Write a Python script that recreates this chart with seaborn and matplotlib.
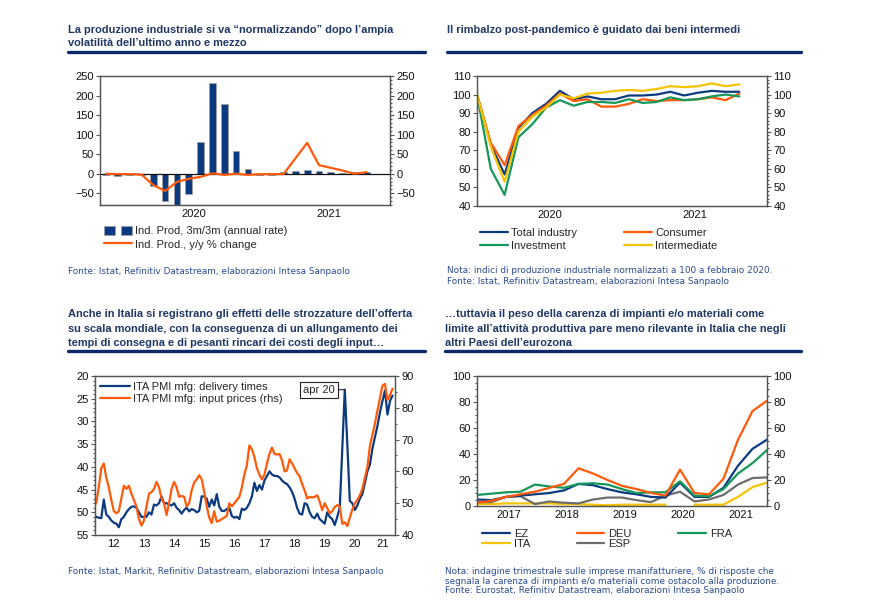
import numpy as np
import pandas as pd
import seaborn as sns
import matplotlib.pyplot as plt
from matplotlib.ticker import MultipleLocator, FixedLocator
from matplotlib.patches import Patch
from matplotlib.lines import Line2D
from matplotlib.legend_handler import HandlerTuple

sns.set_theme(style="white")
plt.rcParams["font.family"] = ["Liberation Sans", "DejaVu Sans"]

# ---- panel 1: industrial production (monthly, Nov 2019 - Sep 2021)
p1_months = pd.date_range("2019-11-01", periods=23, freq="MS").strftime("%Y-%m").tolist()
p1_3m3m = [-3, -5, -3, -3, -32, -69, -80, -52, 82, 233, 179, 58, 13, -2, -3, 5, 7, 9, 7, 5, 3, 5, 4]
p1_yoy = [0, -1, -1, -2, -29, -44, -21, -13, -8, 1, -3, 0, -3, -1, -1, -1, 39, 79, 22, 15, 8, 0, 4]
p1_years = ["2020", "2021"]

# ---- panel 2: production by sector, Feb 2020 = 100 (Feb 2020 - Sep 2021)
p2_months = pd.date_range("2020-02-01", periods=20, freq="MS").strftime("%Y-%m").tolist()
p2_total = [100, 73, 57, 82, 90, 95, 102, 97.5, 99, 97.5, 97.5, 99.5, 99.5, 100, 101.5, 99.5, 101, 102, 101.5, 101.5]
p2_consumer = [100, 74, 62, 83, 89, 94, 100.5, 96.5, 97.5, 93.5, 93.5, 95, 97.5, 96.5, 97, 97, 97.5, 98.5, 97, 100.5]
p2_investment = [100, 60, 46, 77, 84, 93, 97, 94, 96, 96, 95.5, 97.5, 95.5, 96, 98.5, 97, 97.5, 99, 100, 99]
p2_intermediate = [100, 72, 53, 80, 88, 93, 100, 98, 100.5, 101, 102, 102.5, 102, 103, 104.5, 104, 104.5, 106, 104.5, 105.5]
p2_years = ["2020", "2021"]

# ---- panel 3: Italy PMI manufacturing (monthly)
p3_months = pd.date_range("2011-11-01", periods=120, freq="MS").strftime("%Y-%m").tolist()
p3_delivery = [51, 51,
               51.2, 51.3, 47.2, 50.5, 51, 51.8, 52.3, 52.5, 53.3, 51.5, 51, 50,
               49.3, 48.8, 48.7, 49, 50, 51, 51, 51, 50, 50.5, 48.3, 48.5,
               48, 46.5, 48, 48, 48.3, 48.5, 48, 49, 49.5, 50.3, 49.5, 49,
               49.8, 49.3, 49.5, 50, 49.7, 46.5, 46.5, 47, 48.8, 47.2, 48.5, 46,
               48.8, 49.7, 49.7, 49.3, 49, 50.8, 51.2, 51, 51.5, 49.2, 49.5, 49,
               48, 46.5, 43.5, 45.3, 44, 45, 43, 42, 41, 41.7, 42, 42,
               42.3, 43, 43.5, 43.8, 44.5, 45.5, 47, 49, 50.3, 50.5, 48, 48.3,
               50, 51, 51.3, 50.3, 51.5, 52, 52.5, 50, 51, 51.5, 52.8, 51,
               49, 36, 23, 35, 47.5, 48, 49.5, 48.5, 47, 46, 43.5, 41,
               39.5, 36, 33.5, 31, 28, 25.5, 23.2, 28.5, 25.5, 24.3]
p3_input = [49.5, 50,
            55, 61, 62.5, 58, 55, 51, 47.5, 46.8, 47.5, 51.5, 55.5, 54.5,
            55.5, 53, 51, 49, 45, 43, 44.5, 49, 53, 53.5, 54.5, 56.7,
            55, 51.5, 50, 46.3, 50, 54.5, 56.7, 55, 52, 52.3, 52, 49,
            50, 54, 56.5, 57.5, 58.8, 57.5, 53.5, 49, 45.5, 43.7, 47.5, 44.2,
            44.5, 45, 45.5, 46, 50, 49, 50, 51, 52, 55, 59, 62,
            68.2, 67, 64.5, 61, 59, 57.5, 59, 62.5, 65.5, 67.5, 65.5, 65.3,
            65.5, 63.5, 60, 60.3, 63.8, 62.5, 61, 59.5, 58.5, 56, 54, 51.5,
            52, 51.8, 52, 52.5, 50.5, 47.8, 50, 48.5, 46.8, 47.5, 48.8, 49.4,
            49, 43.5, 44, 42.8, 45.5, 48, 50, 51, 52.5, 54.5, 58, 61.4,
            68, 71.5, 75, 79.2, 83, 87, 87.5, 82.5, 84, 86]
p3_years = ["12", "13", "14", "15", "16", "17", "18", "19", "20", "21"]

# ---- panel 4: shortage of equipment/materials, % of answers (quarterly)
p4_quarters = [f"{y}Q{q}" for y in range(2016, 2022) for q in range(1, 5)][3:24]
p4_ez = [5, 4.5, 7, 8, 9, 10, 12, 17, 16, 13, 10.5, 9, 7, 6.5, 18, 7, 7, 14, 31, 44, 51]
p4_deu = [2.5, 4, 7, 9, 11, 14, 17, 29, 25, 20, 15.5, 13, 10, 8, 28, 10, 9, 21, 51, 73, 81]
p4_fra = [8.5, 9.5, 10.5, 11, 16.5, 15, 14, 17, 17.5, 16.5, 13, 10, 10.5, 10.5, 19, 8, 7.5, 13, 25, 33, 43]
p4_ita = [1.5, 1.5, 2, 2, 2, 2, 1.5, 1.5, 1, 0.5, 1, 1, 1, 1, np.nan, 1, 1, 1, 7, 14.5, 18]
p4_esp = [3, 3, 7, 7.5, 1.5, 3.5, 2.5, 2, 5, 6.5, 6.5, 4.5, 3, 8, 11, 3.5, 5, 8.5, 16.5, 21.5, 22]
p4_years = ["2017", "2018", "2019", "2020", "2021"]

NAVY = "#0b3a80"
ORANGE = "#ff5a0a"
GREEN = "#16975a"
YELLOW = "#f5c400"
GREY = "#6e6e6e"
TITLE_C = "#1f3864"
NOTE_C = "#2b4c94"
SPINE_C = "#555555"

W, H = 872, 615
fig = plt.figure(figsize=(W / 100, H / 100), dpi=100)
fig.patch.set_facecolor("white")


def ax_at(l, t, r, b):
    return fig.add_axes([l / W, 1 - b / H, (r - l) / W, (b - t) / H])


def ftext(x, y, s, **kw):
    fig.text(x / W, 1 - y / H, s, va="center", ha="left", **kw)


def fpos(x, y):
    return (x / W, 1 - y / H)


def style(ax):
    for sp in ax.spines.values():
        sp.set_color(SPINE_C)
        sp.set_linewidth(0.9)
    ax.tick_params(which="both", direction="out", color=SPINE_C, width=0.8,
                   labelsize=8, pad=1.5, colors="#111111")
    ax.tick_params(which="major", length=3)
    ax.tick_params(which="minor", length=1.6)
    ax.set_xlabel("")
    ax.set_ylabel("")


def year_axis(ax, bounds, label_pos, labels):
    ax.xaxis.set_major_locator(FixedLocator(bounds))
    ax.set_xticklabels([""] * len(bounds))
    ax.xaxis.set_minor_locator(FixedLocator(label_pos))
    ax.set_xticklabels(labels, minor=True)
    ax.tick_params(axis="x", which="minor", length=0, labelsize=8, pad=3)


def titles(x, y0, lines, x1, yline):
    step = 14.5 if len(lines) > 2 else 13.5
    for k, s in enumerate(lines):
        ftext(x, y0 + k * step, s, fontsize=7.9, fontweight="bold", color=TITLE_C)
    fig.add_artist(Line2D([x / W, x1 / W], [1 - yline / H] * 2, color="#0c2a6b",
                          lw=2.4, transform=fig.transFigure))


def notes(x, y0, lines, step=9.0):
    for k, s in enumerate(lines):
        ftext(x, y0 + k * step, s, fontsize=6.4, color=NOTE_C, family="DejaVu Sans")


# ================= panel 1
ax1 = ax_at(100, 76, 390, 205)
df1 = pd.DataFrame({"month": p1_months, "i": np.arange(len(p1_months)),
                    "m3m3": p1_3m3m, "yoy": p1_yoy})
ax1.axhline(0, color="#111111", lw=0.9, zorder=2)
sns.barplot(data=df1, x="i", y="m3m3", native_scale=True, width=0.57, color=NAVY,
            saturation=1, edgecolor="#a0a0a0", linewidth=0.6, ax=ax1, zorder=1.5)
sns.lineplot(data=df1, x="i", y="yoy", color=ORANGE, lw=1.6, ax=ax1, zorder=3)
ax1.set_xlim(-0.5, 24)
ax1.set_ylim(-80, 250)
ax1.set_yticks(range(-50, 251, 50))
style(ax1)
year_axis(ax1, [1.5 + 3 * k for k in range(8)], [7.4, 18.8], p1_years)
ax1r = ax1.twinx()
ax1r.set_ylim(-80, 250)
ax1r.set_yticks(range(-50, 251, 50))
ax1r.yaxis.set_minor_locator(MultipleLocator(10))
style(ax1r)

h1 = [(Patch(facecolor=NAVY, edgecolor="#a0a0a0", lw=0.5),
       Patch(facecolor=NAVY, edgecolor="#a0a0a0", lw=0.5)),
      Line2D([], [], color=ORANGE, lw=1.6)]
fig.legend(h1, ["Ind. Prod, 3m/3m (annual rate)", "Ind. Prod., y/y % change"],
           loc="upper left", bbox_to_anchor=fpos(104, 226), frameon=False, fontsize=8,
           handlelength=2.5, handleheight=0.9, handletextpad=0.3, labelspacing=0.25,
           borderpad=0, borderaxespad=0,
           handler_map={tuple: HandlerTuple(ndivide=None, pad=0.6)})

titles(68, 30, ["La produzione industriale si va “normalizzando” dopo l’ampia",
                "volatilità dell’ultimo anno e mezzo"], 425, 51.5)
notes(68, 271, ["Fonte: Istat, Refinitiv Datastream, elaborazioni Intesa Sanpaolo"])

# ================= panel 2
ax2 = ax_at(477, 76, 767, 206)
df2 = pd.DataFrame({"month": p2_months, "i": np.arange(len(p2_months)),
                    "Total industry": p2_total, "Consumer": p2_consumer,
                    "Investment": p2_investment, "Intermediate": p2_intermediate})
long2 = df2.melt(id_vars=["month", "i"], var_name="series", value_name="value")
pal2 = {"Total industry": NAVY, "Consumer": ORANGE, "Investment": GREEN, "Intermediate": YELLOW}
sns.lineplot(data=long2, x="i", y="value", hue="series", palette=pal2, lw=1.6,
             legend=False, ax=ax2)
ax2.set_xlim(0, 21)
ax2.set_ylim(40, 110)
ax2.set_yticks(range(40, 111, 10))
style(ax2)
year_axis(ax2, [1.5 + 3 * k for k in range(7)], [5.3, 15.8], p2_years)
ax2r = ax2.twinx()
ax2r.set_ylim(40, 110)
ax2r.set_yticks(range(40, 111, 10))
ax2r.yaxis.set_minor_locator(MultipleLocator(2))
style(ax2r)
order2 = ["Total industry", "Investment", "Consumer", "Intermediate"]
fig.legend([Line2D([], [], color=pal2[s], lw=1.6) for s in order2], order2, ncol=2,
           loc="upper left", bbox_to_anchor=fpos(480, 228), frameon=False, fontsize=8,
           handlelength=2.5, handletextpad=0.3, labelspacing=0.25, columnspacing=4.2,
           borderpad=0, borderaxespad=0)
titles(447, 30, ["Il rimbalzo post-pandemico è guidato dai beni intermedi"], 801, 51.5)
notes(447, 270.5, ["Nota: indici di produzione industriale normalizzati a 100 a febbraio 2020.",
                   "Fonte: Istat, Refinitiv Datastream, elaborazioni Intesa Sanpaolo"], step=10.5)

# ================= panel 3
ax3 = ax_at(95, 376, 395, 535)
df3 = pd.DataFrame({"month": p3_months, "m": np.arange(len(p3_months)) - 2,
                    "delivery": p3_delivery, "input": p3_input})
sns.lineplot(data=df3, x="m", y="delivery", color=NAVY, lw=1.6, ax=ax3)
ax3.set_xlim(-1.5, 118)
ax3.set_ylim(55, 20)
ax3.set_yticks(range(20, 56, 5))
ax3.yaxis.set_minor_locator(MultipleLocator(1))
style(ax3)
year_axis(ax3, [12 * k for k in range(10)], [6 + 12 * k for k in range(9)] + [113], p3_years)
ax3r = ax3.twinx()
sns.lineplot(data=df3, x="m", y="input", color=ORANGE, lw=1.6, ax=ax3r)
ax3r.set_ylim(40, 90)
ax3r.set_yticks(range(40, 91, 10))
ax3r.yaxis.set_minor_locator(MultipleLocator(5))
style(ax3r)
ax3r.legend([Line2D([], [], color=NAVY, lw=1.6), Line2D([], [], color=ORANGE, lw=1.6)],
            ["ITA PMI mfg: delivery times", "ITA PMI mfg: input prices (rhs)"],
            loc="upper left", bbox_to_anchor=fpos(100, 382), bbox_transform=fig.transFigure,
            frameon=False, fontsize=8, handlelength=2.7, handletextpad=0.3,
            labelspacing=0.2, borderpad=0, borderaxespad=0)
ax3.annotate("apr 20", xy=(98, 23), xytext=(87.7, 23.1), fontsize=8, ha="center",
             va="center", zorder=5,
             bbox=dict(boxstyle="square,pad=0.25", fc="white", ec="#222222", lw=0.8),
             arrowprops=dict(arrowstyle="-", color="#222222", lw=0.8, shrinkA=0, shrinkB=0))
titles(68, 314, ["Anche in Italia si registrano gli effetti delle strozzature dell’offerta",
                 "su scala mondiale, con la conseguenza di un allungamento dei",
                 "tempi di consegna e di pesanti rincari dei costi degli input…"], 425, 351)
notes(68, 572, ["Fonte: Istat, Markit, Refinitiv Datastream, elaborazioni Intesa Sanpaolo"])

# ================= panel 4
ax4 = ax_at(477, 376, 767, 506)
df4 = pd.DataFrame({"quarter": p4_quarters, "EZ": p4_ez, "DEU": p4_deu, "FRA": p4_fra,
                    "ITA": p4_ita, "ESP": p4_esp})
df4["x"] = [int(q[:4]) + (int(q[-1]) - 1) / 4 for q in df4["quarter"]]
long4 = df4.melt(id_vars=["quarter", "x"], var_name="country", value_name="value")
# ITA has a missing quarter: split it in two pieces so the gap stays visible
long4["seg"] = 0
ita = long4["country"] == "ITA"
long4.loc[ita, "seg"] = long4.loc[ita, "value"].isna().cumsum()
long4 = long4.dropna()
pal4 = {"EZ": NAVY, "DEU": ORANGE, "FRA": GREEN, "ITA": YELLOW, "ESP": GREY}
sns.lineplot(data=long4, x="x", y="value", hue="country", units="seg", estimator=None,
             palette=pal4, hue_order=["ITA", "ESP", "EZ", "FRA", "DEU"], lw=1.6,
             legend=False, ax=ax4)
ax4.set_xlim(2016.75, 2021.75)
ax4.set_ylim(0, 100)
ax4.set_yticks(range(0, 101, 20))
ax4.yaxis.set_minor_locator(MultipleLocator(5))
style(ax4)
year_axis(ax4, [y - 0.125 for y in range(2017, 2022)], [y + 0.3 for y in range(2017, 2022)], p4_years)
ax4r = ax4.twinx()
ax4r.set_ylim(0, 100)
ax4r.set_yticks(range(0, 101, 20))
ax4r.yaxis.set_minor_locator(MultipleLocator(5))
style(ax4r)
order4 = ["EZ", "ITA", "DEU", "ESP", "FRA"]
fig.legend([Line2D([], [], color=pal4[s], lw=1.6) for s in order4], order4, ncol=3,
           loc="upper left", bbox_to_anchor=fpos(482, 529), frameon=False, fontsize=8,
           handlelength=2.5, handletextpad=0.35, labelspacing=0.0, columnspacing=4.2,
           borderpad=0, borderaxespad=0)
titles(445, 314, ["…tuttavia il peso della carenza di impianti e/o materiali come",
                  "limite all’attività produttiva pare meno rilevante in Italia che negli",
                  "altri Paesi dell’eurozona"], 801, 351)
notes(445, 572, ["Nota: indagine trimestrale sulle imprese manifatturiere, % di risposte che",
                 "segnala la carenza di impianti e/o materiali come ostacolo alla produzione.",
                 "Fonte: Eurostat, Refinitiv Datastream, elaborazioni Intesa Sanpaolo"], step=9.2)

fig.savefig("out.png", dpi=100, facecolor="white")
